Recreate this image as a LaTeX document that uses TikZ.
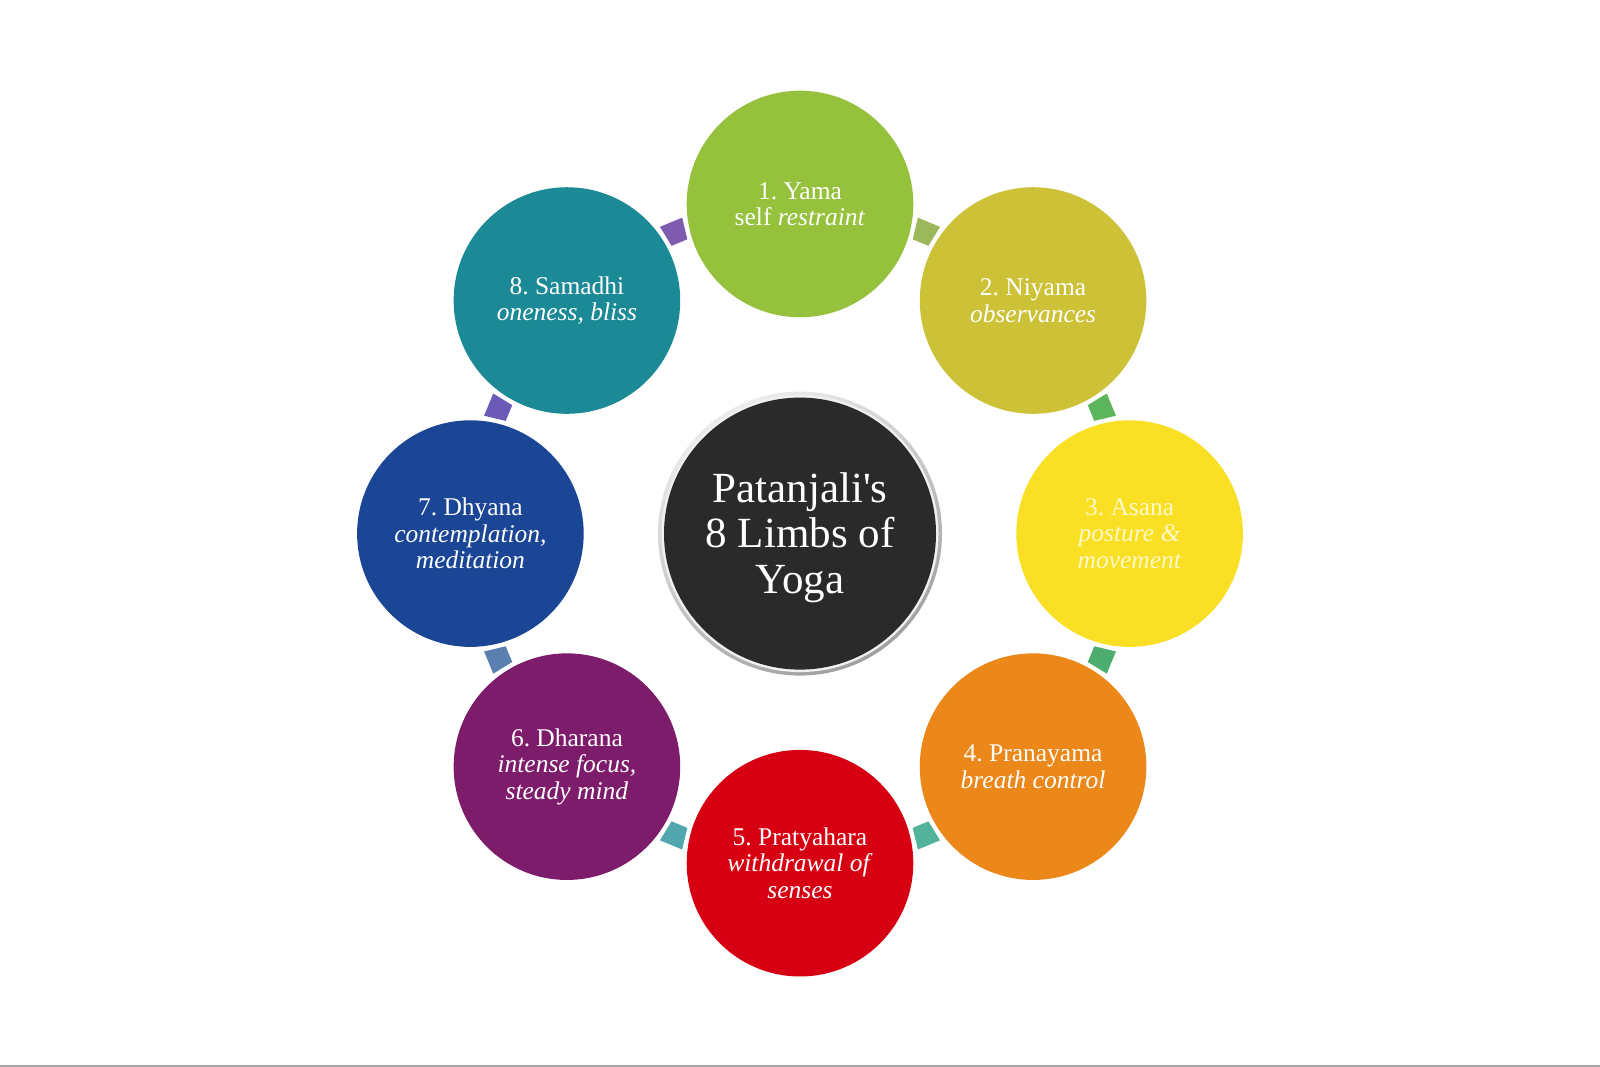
\documentclass[tikz,border=0pt]{standalone}
\usepackage{fontspec}
\setmainfont{Liberation Serif}
\usetikzlibrary{calc}
\frenchspacing
\definecolor{cyama}{RGB}{149,193,60}
\definecolor{cniyama}{RGB}{205,193,55}
\definecolor{casana}{RGB}{250,224,37}
\definecolor{cprana}{RGB}{236,136,25}
\definecolor{cpratya}{RGB}{215,0,18}
\definecolor{cdharana}{RGB}{126,28,108}
\definecolor{cdhyana}{RGB}{27,69,149}
\definecolor{csamadhi}{RGB}{27,138,150}
\definecolor{lk81}{RGB}{127,91,176}
\definecolor{lk12}{RGB}{155,184,90}
\definecolor{lk23}{RGB}{92,180,92}
\definecolor{lk34}{RGB}{76,173,110}
\definecolor{lk45}{RGB}{82,179,154}
\definecolor{lk56}{RGB}{82,166,176}
\definecolor{lk67}{RGB}{91,128,176}
\definecolor{lk78}{RGB}{106,90,181}
\definecolor{hubdark}{RGB}{42,42,42}
\definecolor{asanatext}{RGB}{255,248,200}
\begin{document}
\frenchspacing
\begin{tikzpicture}[x=1pt,y=1pt,
  limb/.style={circle, minimum size=226.6pt, inner sep=0pt, text=white, align=center,
    font=\fontsize{25.5}{26.5}\selectfont},
  hubring/.style={circle, minimum size=272pt, inner sep=0pt, fill=hubdark},
  hubtext/.style={inner sep=0pt, text=white, align=center,
    font=\fontsize{43}{45.5}\selectfont}]
\useasboundingbox (0,0) rectangle (1600,1067);
\fill[white] (0,0) rectangle (1600,1067);
\draw[line width=2pt, color=gray!70] (0,1) -- (1600,1);

% central hub with silver rim
\shade[top color=gray!15, bottom color=gray!75, shading angle=30] (800,533.4) circle (142);
\fill[white!88!gray] (800,533.4) circle (138.5);
\node[hubring] (hub) at (800,533.4) {};
\node[hubtext] (hubt) at ($(hub)+(0,-4)$) {Patanjali\textquotesingle s\\8 Limbs of\\Yoga};

% limbs
\node[limb, fill=cyama]    (n1) at ($(hub)+(90:329.6)$)   {1. Yama\\self \textit{restraint}};
\node[limb, fill=cniyama]  (n2) at ($(hub)+(45:329.6)$)   {2. Niyama\\\textit{observances}};
\node[limb, fill=casana, text=asanatext] (n3) at ($(hub)+(0:329.6)$) {3. Asana\\\textit{posture \&}\\\textit{movement}};
\node[limb, fill=cprana]   (n4) at ($(hub)+(-45:329.6)$)  {4. Pranayama\\\textit{breath control}};
\node[limb, fill=cpratya]  (n5) at ($(hub)+(-90:329.6)$)  {5. Pratyahara\\\textit{withdrawal of}\\\textit{senses}};
\node[limb, fill=cdharana] (n6) at ($(hub)+(-135:329.6)$) {6. Dharana\\\textit{intense focus,}\\\textit{steady mind}};
\node[limb, fill=cdhyana]  (n7) at ($(hub)+(180:329.6)$)  {7. Dhyana\\\textit{contemplation,}\\\textit{meditation}};
\node[limb, fill=csamadhi] (n8) at ($(hub)+(135:329.6)$)  {8. Samadhi\\\textit{oneness, bliss}};

% links between limbs
\foreach \a/\c in {67.5/lk12, 22.5/lk23, -22.5/lk34, -67.5/lk45, -112.5/lk56, -157.5/lk67, 157.5/lk78, 112.5/lk81}
  \fill[\c, shift={($(hub)+(\a:326)$)}, rotate=\a]
    (-11,-8.5) -- (11,-12) -- (11,12) -- (-11,8.5) -- cycle;
\end{tikzpicture}
\end{document}
